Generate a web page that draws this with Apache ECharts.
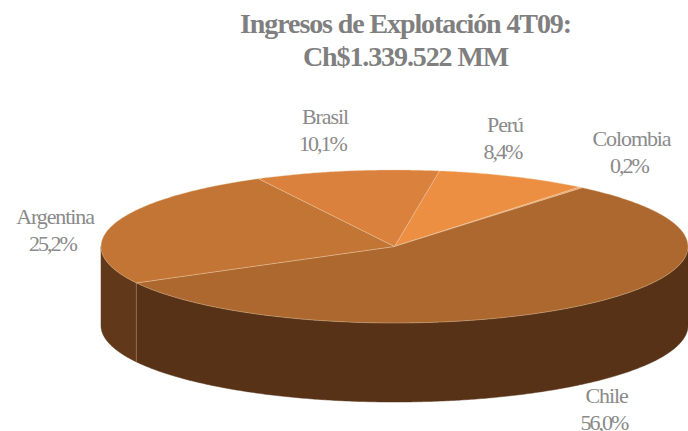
<!DOCTYPE html>
<html>
<head>
<meta charset="utf-8">
<style>
html,body{margin:0;padding:0;background:#fff}
#c{width:688px;height:431px}
#c svg text{letter-spacing:-1.1px}
</style>
<script src="https://cdn.jsdelivr.net/npm/echarts@6/dist/echarts.min.js"></script>
</head>
<body>
<div id="c"></div>
<script>
const titleLines = ['Ingresos de Explotación 4T09:', 'Ch$1.339.522 MM'];
const categories = ['Perú', 'Colombia', 'Chile', 'Argentina', 'Brasil'];
const shares = [8.4, 0.2, 56.0, 25.2, 10.1];
const shareLabels = ['8,4%', '0,2%', '56,0%', '25,2%', '10,1%'];

const topColors = ['#ED8F43', '#F2A25E', '#AC682E', '#C27534', '#D9813D'];
const wallColors = ['#8A5228', '#8A5228', '#573216', '#613819', '#75451F'];
// layout only: pie geometry and label centres
const pie = {cx: 394.5, cy: 246.5, rx: 293.5, ry: 76.5, depth: 79, startDeg: 8.8};
const labelCentres = [[505, 138], [631.5, 152], [606.5, 409], [55, 230], [325, 130]];

const total = shares.reduce((a, b) => a + b, 0);
const pt = (deg, drop) => {
  const t = deg * Math.PI / 180;
  return [pie.cx + pie.rx * Math.sin(t), pie.cy - pie.ry * Math.cos(t) + (drop || 0)];
};
const arc = (a, b, drop) => {
  const out = [], n = Math.max(2, Math.ceil(Math.abs(b - a) * 2));
  for (let i = 0; i <= n; i++) out.push(pt(a + (b - a) * i / n, drop));
  return out;
};

function renderSlice(params, api) {
  const i = params.dataIndex;
  let start = pie.startDeg;
  for (let k = 0; k < i; k++) start += api.value(1, k) / total * 360;
  const end = start + api.value(1) / total * 360;
  const children = [];
  const a = Math.max(start, 90), b = Math.min(end, 270);
  if (b > a) {
    children.push({
      type: 'polygon', z2: 1,
      shape: {points: arc(a, b, 0).concat(arc(b, a, pie.depth))},
      style: {fill: wallColors[i], stroke: wallColors[i], lineWidth: 0.5}
    });
    if (a > 90) {
      children.push({
        type: 'line', z2: 2,
        shape: {x1: pt(a)[0], y1: pt(a)[1], x2: pt(a)[0], y2: pt(a)[1] + pie.depth},
        style: {stroke: '#A87F5C', lineWidth: 0.7}
      });
    }
  }
  children.push({
    type: 'polygon', z2: 3,
    shape: {points: [[pie.cx, pie.cy]].concat(arc(start, end, 0))},
    style: {fill: topColors[i], stroke: 'rgba(240,205,170,0.65)', lineWidth: 0.6}
  });
  children.push({
    type: 'text', z2: 5,
    x: labelCentres[i][0], y: labelCentres[i][1],
    style: {
      text: categories[i] + '\n' + shareLabels[i],
      fontFamily: '"Liberation Serif"', fontSize: 22, lineHeight: 27,
      fill: '#8A8A8A', align: 'center', verticalAlign: 'middle'
    }
  });
  return {type: 'group', children};
}

const chart = echarts.init(document.getElementById('c'), null, {renderer: 'svg'});
// the percentages sit tighter than the words in the reference
const tightenPercents = () => {
  document.querySelectorAll('#c svg text').forEach(t => {
    if (/%\s*$/.test(t.textContent)) {
      t.style.letterSpacing = '-2px';
      t.setAttribute('dx', '-2.5');
    }
  });
};
chart.on('finished', tightenPercents);
chart.setOption({
  animation: false,
  backgroundColor: '#ffffff',
  title: {
    text: titleLines.join('\n'),
    left: 400.5, top: 2, textAlign: 'center',
    textStyle: {
      fontFamily: '"Liberation Serif"', fontWeight: 'bold',
      fontSize: 28, lineHeight: 33, color: '#7F7F7F'
    }
  },
  series: [{
    type: 'custom',
    coordinateSystem: 'none',
    renderItem: renderSlice,
    data: categories.map((c, i) => [c, shares[i]])
  }]
});
tightenPercents();
</script>
</body>
</html>
